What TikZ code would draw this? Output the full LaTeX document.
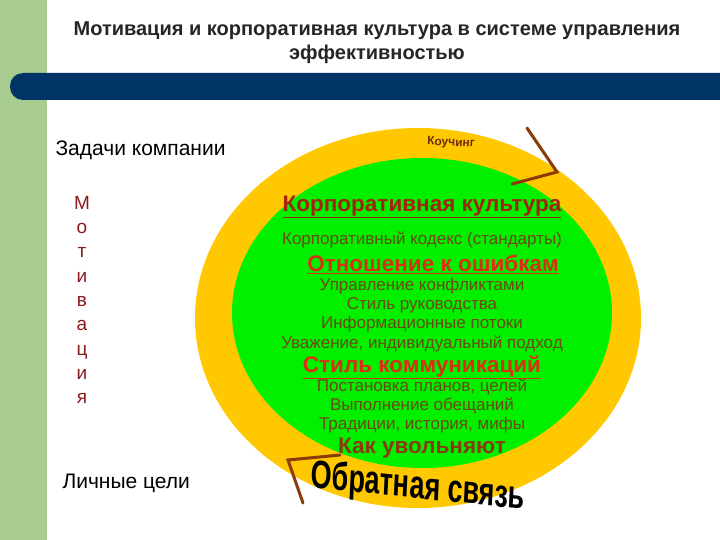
\documentclass[tikz,border=0pt]{standalone}
\usepackage{fontspec}
\setmainfont{Liberation Sans}
\definecolor{leftg}{HTML}{A8CC90}
\definecolor{barb}{HTML}{003366}
\definecolor{yel}{HTML}{FFC800}
\definecolor{grn}{HTML}{00F000}
\definecolor{hd}{HTML}{D83010}
\definecolor{bd}{HTML}{6A4A10}
\definecolor{arr}{HTML}{8B3A0A}
\definecolor{lt}{HTML}{8B1A1A}
\tikzset{
  head/.style={font=\fontsize{22.5}{25}\selectfont\bfseries, text=hd},
  body/.style={font=\fontsize{17}{19}\selectfont, text=bd},
  bodyb/.style={font=\fontsize{17}{19.2}\selectfont, text=bd, align=center},
  lefttxt/.style={font=\fontsize{21}{23}\selectfont, text=black, anchor=west},
  arrline/.style={draw=arr, line width=3pt, line cap=round, line join=miter}
}
\begin{document}
\begin{tikzpicture}[x=1pt,y=-1pt]
\useasboundingbox (0,0) rectangle (720,540);
\fill[white] (0,0) rectangle (720,540);
\fill[leftg] (0,0) rectangle (47,540);
\fill[barb,rounded corners=13pt] (10,73) rectangle (740,100);
\node[font=\fontsize{20}{24}\selectfont\bfseries, align=center, text=black!85] (title) at (377,43) {Мотивация и корпоративная культура в системе управления\\эффективностью};
\fill[yel] (418,318) ellipse [x radius=223, y radius=190];
\fill[grn] (422,313) ellipse [x radius=190, y radius=155];
\node[font=\fontsize{12}{13}\selectfont\bfseries, text=arr!80!black, rotate=-3] (kouch) at (451,143) {Коучинг};
\draw[arrline] (527,128) -- (557,172) -- (512,184);
\draw[arrline] (303,503) -- (288,460) -- (340,455);
\node[font=\fontsize{36}{38}\selectfont\bfseries, text=black, xscale=0.75, yscale=1.1, rotate=-4] (fb) at (418,488) {Обратная связь};
\node[lefttxt] (zad) at (52,150) {Задачи компании};
\node[lefttxt] (lich) at (59,483) {Личные цели};
\node[font=\fontsize{19}{24.3}\selectfont, text=lt, align=center] (mot) at (82,300) {М\\о\\т\\и\\в\\а\\ц\\и\\я};
\node[head, text=hd!75!black] (kk) at (422,207) {\underline{Корпоративная культура}};
\node[body] (kod) at (422,240) {Корпоративный кодекс (стандарты)};
\node[head] (otn) at (433,264) {\underline{Отношение к ошибкам}};
\node[bodyb] (b1) at (422,315) {Управление конфликтами\\Стиль руководства\\Информационные потоки\\Уважение, индивидуальный подход};
\node[head] (stil) at (422,367) {\underline{Стиль коммуникаций}};
\node[bodyb] (b2) at (422,406) {Постановка планов, целей\\Выполнение обещаний\\Традиции, история, мифы};
\node[head, text=bd!80!red] (kak) at (422,448) {Как увольняют};
\end{tikzpicture}
\end{document}
